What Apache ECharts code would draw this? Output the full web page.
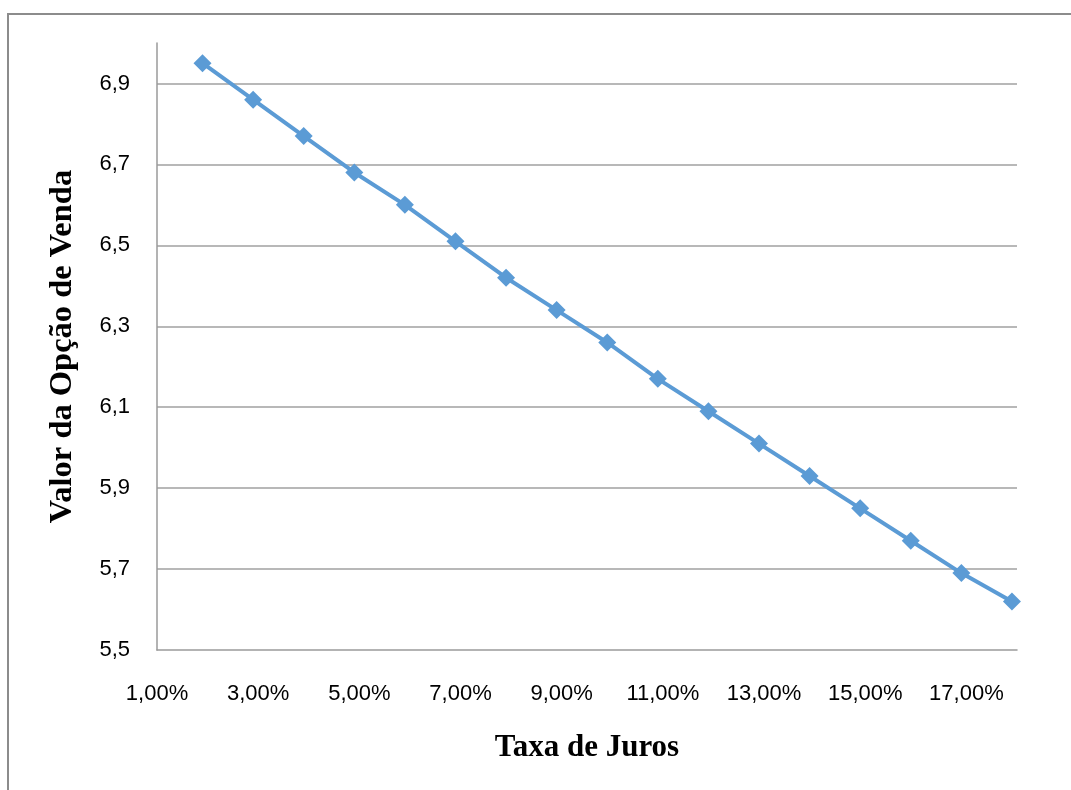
<!DOCTYPE html>
<html>
<head>
<meta charset="utf-8">
<script src="https://cdn.jsdelivr.net/npm/echarts@6/dist/echarts.min.js"></script>
<style>
html,body{margin:0;padding:0;background:#fff;}
#chart{width:1071px;height:790px;}
</style>
</head>
<body>
<div id="chart"></div>
<script>
// Taxa de Juros (%)
var taxaJuros = [1.9, 2.9, 3.9, 4.9, 5.9, 6.9, 7.9, 8.9, 9.9, 10.9, 11.9, 12.9, 13.9, 14.9, 15.9, 16.9, 17.9];
// Valor da Opção de Venda
var valorOpcao = [6.95, 6.86, 6.77, 6.68, 6.60, 6.51, 6.42, 6.34, 6.26, 6.17, 6.09, 6.01, 5.93, 5.85, 5.77, 5.69, 5.62];
var xTitle = 'Taxa de Juros';
var yTitle = 'Valor da Opção de Venda';

var points = taxaJuros.map(function (x, i) { return [x, valorOpcao[i]]; });

var chart = echarts.init(document.getElementById('chart'));
var tickFont = { fontFamily: 'Liberation Sans', fontSize: 22, color: '#000' };
chart.setOption({
  animation: false,
  backgroundColor: '#fff',
  graphic: [{
    type: 'rect',
    shape: { x: 8, y: 14, width: 1200, height: 900 },
    style: { fill: 'none', stroke: '#8c8c8c', lineWidth: 2 },
    silent: true
  }],
  grid: { left: 157, right: 54, top: 43, bottom: 140, containLabel: false },
  xAxis: {
    type: 'value',
    min: 1, max: 18, interval: 2,
    name: xTitle,
    nameLocation: 'middle',
    nameGap: 82,
    nameTextStyle: { fontFamily: 'Liberation Serif', fontWeight: 'bold', fontSize: 31, color: '#000' },
    axisLine: { show: true, lineStyle: { color: '#9a9a9a', width: 1.5 } },
    axisTick: { show: false },
    splitLine: { show: false },
    axisLabel: Object.assign({
      margin: 33,
      showMaxLabel: false,
      formatter: function (v) { return v.toFixed(2).replace('.', ',') + '%'; }
    }, tickFont)
  },
  yAxis: {
    type: 'value',
    min: 5.5, max: 7.0, interval: 0.2,
    name: yTitle,
    nameLocation: 'middle',
    nameGap: 78,
    nameTextStyle: { fontFamily: 'Liberation Serif', fontWeight: 'bold', fontSize: 32.5, color: '#000' },
    axisLine: { show: true, lineStyle: { color: '#9a9a9a', width: 1.5 } },
    axisTick: { show: false },
    splitLine: { show: true, showMinLine: false, showMaxLine: false, lineStyle: { color: '#a0a0a0', width: 1.5 } },
    axisLabel: Object.assign({
      margin: 27,
      showMaxLabel: false,
      formatter: function (v) { return v.toFixed(1).replace('.', ','); }
    }, tickFont)
  },
  series: [{
    type: 'line',
    data: points,
    symbol: 'diamond',
    symbolSize: 18,
    lineStyle: { color: '#5b9bd5', width: 4 },
    itemStyle: { color: '#5b9bd5' }
  }]
});
</script>
</body>
</html>
